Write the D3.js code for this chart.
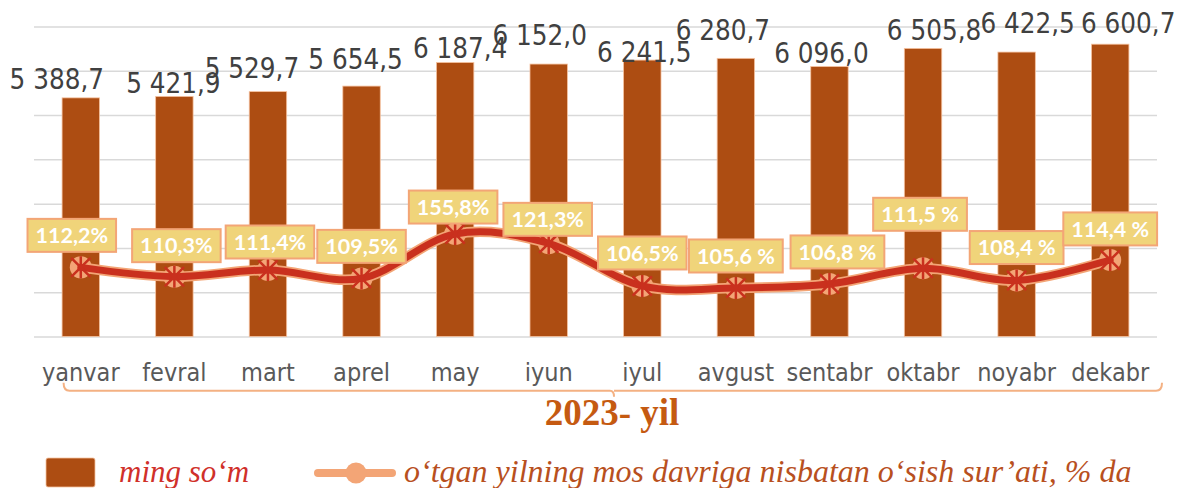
<!DOCTYPE html>
<html lang="uz">
<head>
    <meta charset="UTF-8">
    <title>2023- yil</title>
    <script src="https://cdnjs.cloudflare.com/ajax/libs/d3/7.8.5/d3.min.js"></script>
    <style>
        body {
            margin: 0;
            background: #fff;
        }
        svg {
            display: block;
        }
    </style>
</head>
<body>
    <svg id="chart" width="1178" height="488"></svg>

    <script>
        // chart data
        const months = ["yanvar", "fevral", "mart", "aprel", "may", "iyun",
                        "iyul", "avgust", "sentabr", "oktabr", "noyabr", "dekabr"];
        const wages = [5388.7, 5421.9, 5529.7, 5654.5, 6187.4, 6152.0,
                       6241.5, 6280.7, 6096.0, 6505.8, 6422.5, 6600.7];
        const growth = [112.2, 110.3, 111.4, 109.5, 155.8, 121.3,
                        106.5, 105.6, 106.8, 111.5, 108.4, 114.4];
        const growthLabels = ["112,2%", "110,3%", "111,4%", "109,5%", "155,8%", "121,3%",
                              "106,5%", "105,6 %", "106,8 %", "111,5 %", "108,4 %", "114,4 %"];
        // height of the line on the hidden secondary axis, as it is drawn in the picture
        const growthLine = [44.6, 38.6, 42.9, 37.5, 66.1, 60.1,
                            32.6, 31.3, 33.9, 44.0, 36.1, 49.4];
        const yTicks = [0, 1000, 2000, 3000, 4000, 5000, 6000, 7000];
        const yearLabel = "2023- yil";
        const legendBars = "ming so\u2018m";
        const legendLine = "o\u2018tgan yilning mos davriga nisbatan o\u2018sish sur\u2019ati, % da";

        // manual label nudges (the labels were dragged by hand in the original)
        const valueNudge = [[-24, -9], [-1, -3], [-16, -14], [-6, -17], [5, -4], [-9, -19],
                            [2, 2], [-13, -18], [-8, -4], [11, -8], [11, -19], [18, -11]];
        const boxNudge = [[-9, -32], [2, -31], [2, -28], [0, -32], [-2, -27], [-1, -24],
                          [0, -33], [0, -32], [8, -32], [-3, -54], [0, -33], [0, -31]];

        const svg = d3.select("#chart");
        const plot = { left: 34, right: 1157, top: 26.5, bottom: 336.5 };

        const x = d3.scaleBand()
            .domain(months)
            .range([plot.left, plot.right])
            .paddingInner(0.6)
            .paddingOuter(0.3);

        const y = d3.scaleLinear()
            .domain([0, 7000])
            .range([plot.bottom, plot.top]);

        const y2 = d3.scaleLinear()
            .domain([0, 200])
            .range([plot.bottom, plot.top]);

        const fmt = d3.formatLocale({ decimal: ",", thousands: " ", grouping: [3] }).format(",.1f");
        const cx = d => x(d) + x.bandwidth() / 2;

        // gridlines
        svg.append("g")
            .attr("transform", `translate(${plot.left},0)`)
            .call(d3.axisLeft(y).tickValues(yTicks).tickSize(-(plot.right - plot.left)).tickFormat(""))
            .call(g => g.select(".domain").remove())
            .call(g => g.selectAll(".tick line").attr("stroke", "#d9d9d9").attr("stroke-width", 1.5));

        // bars
        svg.append("g")
            .selectAll("rect")
            .data(months)
            .join("rect")
            .attr("x", d => x(d))
            .attr("width", x.bandwidth())
            .attr("y", (d, i) => y(wages[i]))
            .attr("height", (d, i) => y(0) - y(wages[i]))
            .attr("fill", "#ad4d12")
            .attr("stroke", "#f6c3a0")
            .attr("stroke-width", 0.8);

        // bar values
        svg.append("g")
            .selectAll("text")
            .data(months)
            .join("text")
            .attr("x", (d, i) => cx(d) + valueNudge[i][0])
            .attr("y", (d, i) => y(wages[i]) + valueNudge[i][1])
            .attr("text-anchor", "middle")
            .attr("font-family", "'DejaVu Sans Condensed', 'DejaVu Sans', sans-serif")
            .attr("font-stretch", "condensed")
            .attr("font-size", 27.5)
            .attr("fill", "#404040")
            .text((d, i) => fmt(wages[i]));

        // month axis
        svg.append("g")
            .attr("transform", `translate(0,${plot.bottom})`)
            .call(d3.axisBottom(x).tickSize(0).tickPadding(0))
            .call(g => g.select(".domain").remove())
            .call(g => g.selectAll("text")
                .attr("y", 44)
                .attr("dy", null)
                .attr("font-family", "'DejaVu Sans Condensed', 'DejaVu Sans', sans-serif")
                .attr("font-stretch", "condensed")
                .attr("font-size", 25)
                .attr("fill", "#595959"));

        // year bracket
        const bL = x(months[0]) + 1.5, bR = 1162, bY = 390.7, bM = 614;
        svg.append("path")
            .attr("d", `M${bL},${bY - 8} Q${bL},${bY} ${bL + 6},${bY} L${bM - 4},${bY} Q${bM},${bY} ${bM},${bY + 6}
                        M${bM},${bY} L${bR - 6},${bY} Q${bR},${bY} ${bR},${bY - 8}`)
            .attr("fill", "none")
            .attr("stroke", "#f4b183")
            .attr("stroke-width", 2);

        svg.append("text")
            .attr("x", 612)
            .attr("y", 425)
            .attr("text-anchor", "middle")
            .attr("font-family", "'Liberation Serif', 'Times New Roman', serif")
            .attr("font-weight", "bold")
            .attr("font-size", 37)
            .attr("fill", "#c55a11")
            .text(yearLabel);

        // growth line
        const line = d3.line()
            .x((d, i) => cx(months[i]))
            .y(d => y2(d))
            .curve(d3.curveCardinal.tension(0));

        const markers = svg.append("g");
        markers.selectAll("circle")
            .data(growthLine)
            .join("circle")
            .attr("cx", (d, i) => cx(months[i]))
            .attr("cy", d => y2(d))
            .attr("r", 11)
            .attr("fill", "#f3a576");

        svg.append("path")
            .datum(growthLine)
            .attr("d", line)
            .attr("fill", "none")
            .attr("stroke", "#f3a576")
            .attr("stroke-width", 10.5)
            .attr("stroke-linecap", "round");

        svg.append("path")
            .datum(growthLine)
            .attr("d", line)
            .attr("fill", "none")
            .attr("stroke", "#c9301e")
            .attr("stroke-width", 7)
            .attr("stroke-linecap", "round");

        // star part of the markers
        const star = svg.append("g")
            .attr("stroke", "#c9301e")
            .attr("stroke-width", 2.5);
        growthLine.forEach((d, i) => {
            const px = cx(months[i]), py = y2(d), r = 12;
            star.append("path")
                .attr("d", `M${px - r * 0.8},${py - r * 0.8} L${px + r * 0.8},${py + r * 0.8}
                            M${px + r * 0.8},${py - r * 0.8} L${px - r * 0.8},${py + r * 0.8}
                            M${px},${py - 11} L${px},${py + 11}`);
        });

        // growth labels
        const labels = svg.append("g")
            .selectAll("g")
            .data(growth)
            .join("g")
            .attr("transform", (d, i) =>
                `translate(${cx(months[i]) + boxNudge[i][0]},${y2(growthLine[i]) + boxNudge[i][1]})`);

        labels.append("rect")
            .attr("fill", "#f0d47a")
            .attr("stroke", "#f3a576")
            .attr("stroke-width", 2);

        labels.append("text")
            .attr("text-anchor", "middle")
            .attr("dy", "0.36em")
            .attr("font-family", "Lato, 'Open Sans', sans-serif")
            .attr("font-weight", "bold")
            .attr("font-size", 21.5)
            .attr("fill", "#ffffff")
            .text((d, i) => growthLabels[i]);

        labels.each(function () {
            const g = d3.select(this);
            const w = g.select("text").node().getComputedTextLength() + 16;
            g.select("rect")
                .attr("x", -w / 2)
                .attr("y", -16.5)
                .attr("width", w)
                .attr("height", 33);
        });

        // legend
        const legend = svg.append("g");
        legend.append("rect")
            .attr("x", 46).attr("y", 458)
            .attr("width", 49).attr("height", 29)
            .attr("rx", 2)
            .attr("fill", "#ad4d12")
            .attr("stroke", "#f6c3a0")
            .attr("stroke-width", 0.8);
        legend.append("text")
            .attr("x", 119).attr("y", 482)
            .attr("font-family", "'Liberation Serif', serif")
            .attr("font-style", "italic")
            .attr("font-size", 31)
            .attr("fill", "#d0302a")
            .text(legendBars);

        legend.append("line")
            .attr("x1", 318).attr("x2", 392)
            .attr("y1", 473).attr("y2", 473)
            .attr("stroke", "#f3a576")
            .attr("stroke-width", 8)
            .attr("stroke-linecap", "round");
        legend.append("circle")
            .attr("cx", 356).attr("cy", 473)
            .attr("r", 10.5)
            .attr("fill", "#f3a576");
        legend.append("text")
            .attr("x", 404).attr("y", 482)
            .attr("font-family", "'Liberation Serif', serif")
            .attr("font-style", "italic")
            .attr("font-size", 32)
            .attr("fill", "#b8501e")
            .text(legendLine);
    </script>
</body>
</html>
